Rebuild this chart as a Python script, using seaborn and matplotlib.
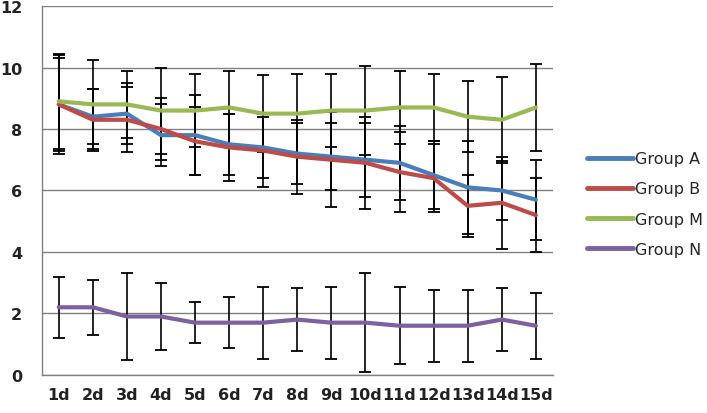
import numpy as np
import pandas as pd
import matplotlib
matplotlib.use("Agg")
import matplotlib.pyplot as plt
import seaborn as sns

# Data
days = ["1d", "2d", "3d", "4d", "5d", "6d", "7d", "8d", "9d", "10d",
        "11d", "12d", "13d", "14d", "15d"]
groups = ["Group A", "Group B", "Group M", "Group N"]

group_a = [8.8, 8.4, 8.5, 7.8, 7.8, 7.5, 7.4, 7.2, 7.1, 7.0, 6.9, 6.5, 6.1, 6.0, 5.7]
group_b = [8.8, 8.3, 8.3, 8.0, 7.6, 7.4, 7.3, 7.1, 7.0, 6.9, 6.6, 6.4, 5.5, 5.6, 5.2]
group_m = [8.9, 8.8, 8.8, 8.6, 8.6, 8.7, 8.5, 8.5, 8.6, 8.6, 8.7, 8.7, 8.4, 8.3, 8.7]
group_n = [2.2, 2.2, 1.9, 1.9, 1.7, 1.7, 1.7, 1.8, 1.7, 1.7, 1.6, 1.6, 1.6, 1.8, 1.6]

err_a = [1.5, 0.9, 1.0, 1.0, 1.3, 1.0, 1.0, 1.0, 1.1, 1.2, 1.2, 1.1, 1.5, 0.95, 1.3]
err_b = [1.6, 1.0, 1.05, 1.0, 1.1, 1.1, 1.2, 1.2, 1.55, 1.5, 1.3, 1.1, 1.0, 1.5, 1.2]
err_m = [1.55, 1.45, 1.1, 1.4, 1.2, 1.2, 1.25, 1.3, 1.2, 1.45, 1.2, 1.1, 1.15, 1.4, 1.4]
err_n = [1.0, 0.9, 1.4, 1.1, 0.67, 0.82, 1.17, 1.03, 1.17, 1.6, 1.25, 1.17, 1.17, 1.03, 1.07]

colors = ["#4A7EBB", "#BE4B48", "#98B954", "#7D60A0"]

means = [group_a, group_b, group_m, group_n]
errs = [err_a, err_b, err_m, err_n]

rows = []
for g, vals, es in zip(groups, means, errs):
    for i, (d, v, e) in enumerate(zip(days, vals, es)):
        rows.append({"day": d, "pos": i, "value": v, "err": e, "group": g})
df = pd.DataFrame(rows)

sns.set_style("white")
plt.rcParams["font.family"] = ["DejaVu Sans"]

fig = plt.figure(figsize=(7.07, 4.14), dpi=100)
ax = fig.add_axes([0.059, 0.092, 0.723, 0.891])

# error bars (black, capped)
for g in groups:
    sub = df[df["group"] == g]
    ax.errorbar(sub["pos"], sub["value"], yerr=sub["err"], fmt="none",
                ecolor="black", elinewidth=1.2, capsize=4.5, capthick=1.3, zorder=2)

sns.lineplot(data=df, x="pos", y="value", hue="group", hue_order=groups,
             palette=colors, linewidth=3, sort=False, ax=ax, zorder=3)

ax.set_xlim(-0.5, len(days) - 0.5)
ax.set_ylim(0, 12)
ax.set_yticks(np.arange(0, 13, 2))
ax.set_xticks(range(len(days)))
ax.set_xticklabels(days)
ax.set_xticks(np.arange(-0.5, len(days), 1), minor=True)
ax.tick_params(axis="x", which="major", length=0, pad=9, labelsize=11.5)
ax.tick_params(axis="x", which="minor", length=5, color="#808080", direction="out")
ax.tick_params(axis="y", length=0, pad=14, labelsize=11.5)
for lab in ax.get_xticklabels() + ax.get_yticklabels():
    lab.set_fontweight("bold")
    lab.set_color("#222222")

ax.grid(axis="y", color="#808080", linewidth=1)
ax.set_axisbelow(True)
for s in ["top", "right"]:
    ax.spines[s].set_visible(False)
for s in ["left", "bottom"]:
    ax.spines[s].set_color("#808080")
    ax.spines[s].set_linewidth(1)
ax.set_xlabel("")
ax.set_ylabel("")

handles, labels = ax.get_legend_handles_labels()
for h in handles:
    h.set_linewidth(3.5)
ax.legend_.remove()
fig.legend(handles, labels, loc="center left", bbox_to_anchor=(0.81, 0.505),
           frameon=False, fontsize=11.5, handlelength=2.9, handletextpad=0.1,
           labelspacing=0.95)

fig.savefig("out.png", dpi=100)
